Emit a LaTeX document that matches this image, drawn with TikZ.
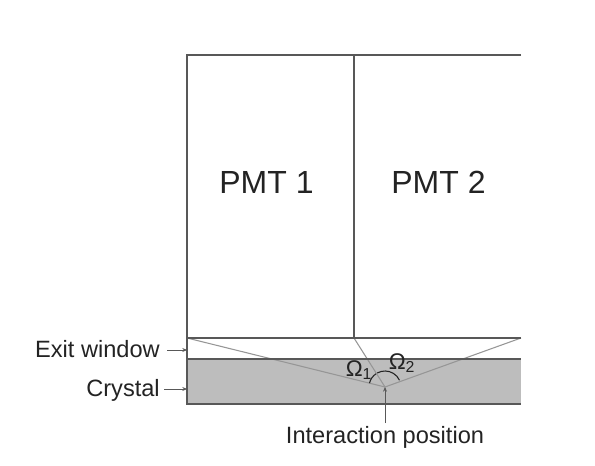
\documentclass[tikz,border=0pt]{standalone}
\usepackage{fontspec}
\setmainfont{Liberation Sans}
\usetikzlibrary{arrows.meta}
\definecolor{Edge}{RGB}{88,88,88}
\definecolor{Ray}{RGB}{150,150,150}
\definecolor{Scint}{RGB}{189,189,189}
\definecolor{Ink}{RGB}{35,35,35}
\begin{document}
\begin{tikzpicture}[x=.75pt,y=-.75pt,
 wall/.style={draw=Edge,line width=1pt},
 ray/.style={draw=Ray,line width=.8pt},
 lead/.style={-{Stealth[length=3.5pt,width=3pt]},draw=Edge,line width=.7pt},
 big/.style={text=Ink,inner sep=0pt,font=\fontsize{24}{26}\selectfont},
 lab/.style={text=Ink,inner sep=0pt,font=\fontsize{17.7}{20}\selectfont},
 ang/.style={text=Ink,inner sep=0pt,font=\fontsize{17}{19}\selectfont}]
\useasboundingbox (0,0) rectangle (595,466);
\fill[Scint] (187,359) rectangle (521,404);
\coordinate (hit) at (385,387);
\coordinate (mid) at (354,338);
\coordinate (wl) at (187,338);
\coordinate (wr) at (521,338);
\coordinate (winarrow) at (187,350);
\coordinate (cryarrow) at (187,389);
\coordinate (winfrom) at (167,350);
\coordinate (cryfrom) at (164,389);
\coordinate (posfrom) at (385,423);
% rays
\draw[ray] (wl)--(hit);\draw[ray] (wr)--(hit);\draw[ray] (mid)--(hit);
% frame
\draw[wall] (521,55)--(187,55)--(187,404)--(521,404);
\draw[wall] (wl)--(wr);
\draw[wall] (187,359)--(521,359);
\draw[wall] (354,55)--(mid);
% angles
\draw[draw=Ink,line width=.8pt] ([shift={(-166:16)}]hit) arc[start angle=-166,end angle=-124,radius=16];
\draw[draw=Ink,line width=.8pt] ([shift={(-119:16)}]hit) arc[start angle=-119,end angle=-25,radius=16];
\node[big] (pmta) at (266.5,182) {PMT 1};
\node[big] (pmtb) at (438.5,182) {PMT 2};
\node[lab,anchor=east] (exit) at (160,349) {Exit window};
\node[lab,anchor=east] (cry) at (160,390) {Crystal};
\node[lab] (pos) at (385,437) {Interaction position};
\node[ang] (om1) at (359,370) {Ω\textsubscript{1}};
\node[ang] (om2) at (402,363) {Ω\textsubscript{2}};
\draw[lead] (winfrom)--(winarrow);
\draw[lead] (cryfrom)--(cryarrow);
\draw[lead] (posfrom)--(hit);
\end{tikzpicture}
\end{document}
